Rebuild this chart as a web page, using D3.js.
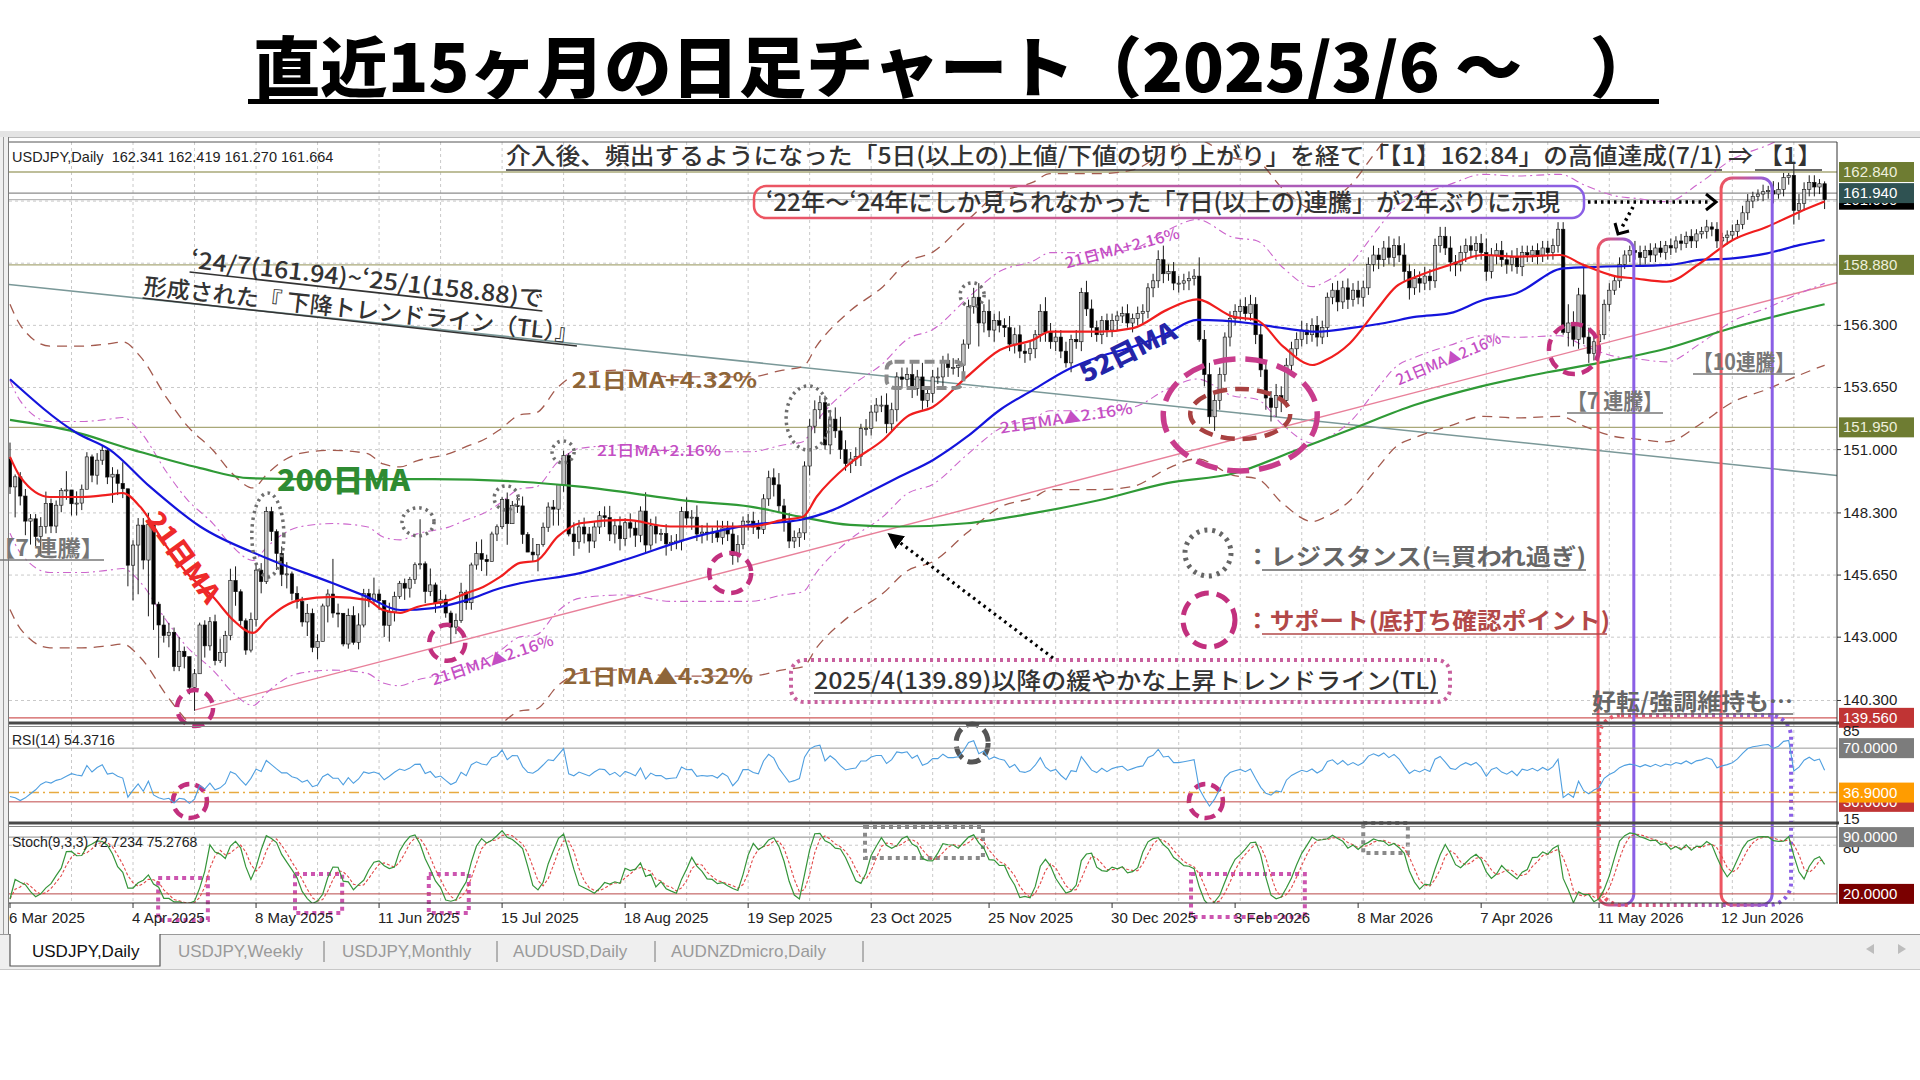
<!DOCTYPE html>
<html lang="ja">
<head>
<meta charset="utf-8">
<title>USDJPY Daily</title>
<script src="https://cdn.jsdelivr.net/npm/d3@7"></script>
<style>
  body { margin: 0; background: #fff; }
  svg { display: block; }
</style>
</head>
<body>
<div id="chartDiv"></div>
<script>
// ---------- values ----------
var firstOpen = 150.60
var closes = [
  149.41,149.84,149.02,147.95,148.05,147.29,147.72,148.71,147.74,148.63,
  149.26,149.28,148.69,148.72,149.31,150.69,149.91,150.55,150.96,149.83,
  149.95,149.56,149.33,146.07,146.93,147.78,146.29,147.80,144.41,143.52,
  143.07,143.21,141.75,142.40,142.17,140.86,141.44,143.52,142.63,143.66,
  142.00,142.34,143.07,145.42,144.94,143.70,142.45,143.75,145.86,145.37,
  148.36,147.50,146.57,145.68,145.70,144.87,144.52,143.65,144.02,142.56,
  142.82,144.33,144.84,144.03,144.02,142.71,143.92,142.78,143.52,144.86,
  144.58,144.84,144.56,143.51,144.07,144.74,145.30,145.09,145.47,146.09,
  146.13,144.95,145.23,144.44,144.62,144.03,143.43,143.71,144.92,144.47,
  146.08,146.57,146.32,146.22,147.40,147.71,148.87,147.84,148.61,148.60,
  147.38,146.63,146.51,146.96,147.69,148.55,148.46,149.50,150.75,147.40,
  147.07,147.70,147.40,147.10,147.70,148.18,148.10,147.40,147.75,147.20,
  147.88,147.65,147.35,148.38,146.93,147.75,147.40,147.42,146.98,147.05,
  147.10,148.36,148.08,148.12,147.40,147.48,147.42,147.48,147.25,147.66,
  147.40,146.49,146.95,147.95,147.95,147.70,147.60,148.90,149.80,149.50,
  148.60,147.90,147.10,147.25,147.45,150.30,152.00,152.70,153.00,151.20,
  152.30,151.80,151.00,150.40,150.60,150.70,151.90,151.90,152.60,152.90,
  152.90,152.10,152.70,154.10,154.00,154.20,153.60,154.10,153.10,153.40,
  154.10,154.10,154.80,154.50,154.50,154.60,155.50,157.10,157.50,156.40,
  156.90,156.10,156.50,156.30,156.20,155.50,155.90,155.20,155.10,155.30,
  155.90,156.90,156.00,155.60,155.80,155.20,154.70,155.70,155.60,157.70,
  157.00,156.20,155.90,156.50,156.10,156.50,156.70,156.80,156.40,156.60,
  156.80,156.90,157.90,158.20,159.10,158.50,158.60,158.10,158.10,158.20,
  158.30,158.40,155.70,154.20,152.40,153.10,154.20,155.80,156.60,156.90,
  157.10,156.80,157.20,155.90,154.40,153.20,152.80,153.30,153.10,154.60,
  155.30,155.70,156.10,155.90,156.30,155.80,156.20,157.50,157.80,157.30,
  157.90,157.40,157.80,157.50,157.90,158.90,159.30,159.10,159.60,159.20,
  159.70,159.30,158.60,157.90,158.30,158.10,158.40,158.20,159.70,160.10,
  159.60,159.00,158.90,159.40,159.70,159.50,159.80,159.40,158.60,159.30,
  159.50,159.10,158.90,159.20,158.80,159.40,159.30,159.50,159.30,159.60,
  159.40,159.70,160.40,156.00,156.40,155.70,157.60,155.80,155.10,155.60,
  155.90,157.20,157.80,158.20,158.90,159.30,159.50,159.40,159.20,159.50,
  159.30,159.60,159.40,159.70,159.60,159.90,159.80,160.10,159.90,160.20,
  160.30,160.50,160.40,159.90,160.05,160.15,160.30,160.60,161.10,161.60,
  161.80,161.90,162.00,162.05,161.90,162.10,162.60,162.70,161.20,161.50,
  162.10,162.40,162.20,162.34,161.66
]
// wick lengths above / below the body, in 0.1 yen
var wickUp = [
  7,1,2,3,2,2,4,5,2,2, 1,8,0,5,2,2,1,3,2,1, 3,2,9,0,2,3,3,5,1,1, 4,4,2,6,2,0,2,1,2,2,
  3,6,2,5,6,1,1,3,3,3, 2,2,1,3,5,1,3,2,4,2, 3,1,2,15,4,0,3,4,5,2, 2,7,2,0,4,2,1,2,1,1,
  19,1,7,1,4,2,1,3,4,1, 1,5,6,2,1,1,1,3,2,4, 4,1,6,0,2,2,3,0,2,1, 5,3,4,3,2,2,4,5,3,4,
  2,4,3,2,8,3,4,2,4,3, 3,2,6,3,5,3,4,2,5,3, 3,5,4,2,3,4,3,2,3,4, 5,3,4,3,2,2,3,4,3,3,
  3,5,6,4,3,4,2,4,3,3, 4,5,3,2,4,3,5,3,6,3, 3,4,2,3,4,3,2,3,4,6, 3,5,3,4,3,5,3,4,3,3,
  2,3,6,4,3,3,4,2,4,2, 5,4,3,2,3,3,2,3,4,2, 3,3,2,3,4,6,3,4,3,3, 3,3,8,4,5,4,3,2,3,3,
  3,4,4,3,4,4,3,5,4,3, 3,3,4,3,3,4,3,2,3,4, 3,4,3,4,3,3,4,3,3,5, 3,4,5,3,4,3,4,3,3,4,
  4,5,3,3,3,4,3,4,6,3, 3,4,3,3,4,3,3,2,3,3, 3,3,3,3,8,5,3,12,4,4, 2,2,3,2,3,2,2,4,3,2,
  3,2,3,2,3,2,3,2,3,2, 2,3,2,3,2,2,3,2,3,3, 2,2,3,2,4,3,2,1,5,4, 3,3,3,2,1
]
var wickDown = [
  3,13,4,6,10,4,8,3,3,3, 3,4,5,5,3,0,3,4,2,3, 11,5,4,9,15,21,4,24,11,14, 3,5,2,2,5,3,10,0,5,2,
  2,1,6,2,6,2,2,1,3,5, 1,4,7,5,6,3,3,2,6,2, 5,0,7,2,6,1,2,1,3,1, 3,2,4,5,7,4,1,5,4,2,
  2,5,2,4,2,2,7,3,1,3, 3,2,5,6,0,3,1,9,0,3, 4,0,3,7,1,2,7,7,3,1, 6,3,4,5,3,3,4,3,4,5,
  3,4,5,3,3,2,4,3,5,3, 3,4,3,5,3,4,3,4,2,3, 3,4,3,2,4,3,4,2,3,5, 3,4,3,3,4,3,4,3,4,2,
  4,3,4,3,4,3,4,3,3,4, 3,4,3,5,4,3,4,3,4,3, 4,3,5,4,3,4,3,2,3,10, 4,3,5,3,4,3,4,3,4,3,
  4,3,4,3,4,3,2,4,3,4, 3,4,3,4,3,3,4,3,2,4, 3,4,3,4,3,4,3,3,4,3, 4,3,1,5,3,6,4,3,4,3,
  4,3,3,4,3,5,6,4,5,3, 4,3,3,4,3,4,3,4,3,4, 3,4,3,3,4,3,3,4,3,3, 4,3,4,5,3,4,3,4,3,3,
  3,4,5,3,4,3,4,3,4,3, 4,3,4,3,3,4,3,3,4,3, 3,3,3,1,6,3,4,3,4,3, 3,2,3,2,3,2,3,3,4,3,
  3,3,2,3,3,2,3,2,3,3, 2,3,3,3,2,3,2,3,2,3, 3,2,3,3,4,2,3,3,6,4, 3,3,4,3,4
]
// RSI for the first bars (before 14 closes exist)
var rsiLead = [34,33,31,33,36,39,43,45,44,46,47,49,51,50]

// moving averages: [bar, price]
var ma21 = [[0,150.69],[2,149.84],[7.8,148.98],[14,148.98],[19,149.07],[22,149.15],[25.4,148.56],[30.6,146.85],
  [34.5,145.74],[39.6,144.72],[43.5,143.74],[47.4,143.18],[50.1,143.74],[53.3,144.29],[56.6,144.59],[63,144.72],
  [69.6,144.59],[72.8,144.16],[76.1,144.04],[79.4,144.29],[85.8,144.59],[89.2,144.89],[92.3,145.14],[95.6,145.57],
  [99.5,146.17],[102.6,146.25],[106.9,147.3],[111.2,147.86],[120,148.0],[128.8,147.72],[134.6,147.72],[144.4,147.72],
  [150.8,148.0],[154.7,148.14],[157.4,149.0],[163.9,150.42],[170.3,151.41],[175,152.41],[180.1,152.83],[186.7,154.11],
  [193.1,155.25],[199.6,155.68],[202.9,156.03],[212.6,156.03],[219.1,156.18],[225.7,156.96],[231.6,157.41],[238.6,156.67],
  [243.2,156.53],[248.4,155.39],[254.1,154.61],[256.5,154.8],[261.4,155.54],[266.6,156.96],[270.4,157.95],[274.4,158.38],
  [280.9,158.88],[287.4,159.30],[293.9,159.23],[302.4,159.30],[306.9,158.88],[313.5,158.38],[316.6,158.31],[323.2,158.16],
  [329.7,158.95],[336.1,159.94],[342.8,160.51],[349.2,161.15],[354,161.58]]
var ma52 = [[0,154.0],[13.1,151.70],[19.5,150.99],[27.3,149.42],[37.1,147.72],[50.1,146.37],[63,145.30],[69.6,144.73],
  [76.1,144.16],[82.5,144.24],[89.2,144.59],[95.6,145.09],[99.5,145.30],[111.2,145.73],[120,146.30],[133.8,147.29],
  [144.4,147.79],[154.1,148.0],[160.6,148.43],[167.2,149.14],[173.6,149.85],[180.1,150.56],[186.7,151.55],[193.1,152.69],
  [199.6,153.55],[206.2,154.40],[212.6,154.97],[219.1,155.39],[225.7,155.96],[231.6,156.53],[241.9,156.39],[248.4,156.18],
  [254.9,156.03],[261.4,156.18],[267.9,156.39],[274.4,156.67],[280.9,156.82],[287.4,157.38],[293.9,157.67],[303,158.73],
  [310.2,158.80],[323.8,158.88],[329.7,159.09],[336.1,159.16],[342.8,159.37],[349.2,159.73],[354,159.94]]
var ma200 = [[0,152.27],[11.1,151.84],[24,150.99],[37.1,150.21],[46.8,149.78],[63,149.74],[82.5,149.74],[99.5,149.63],
  [111.2,149.42],[133.8,148.78],[144.4,148.57],[154.1,148.14],[163.9,147.79],[173.6,147.72],[186.7,147.86],[199.6,148.29],
  [212.6,148.85],[225.7,149.57],[239,150.0],[250,150.9],[262,151.9],[274,152.9],[287,153.7],[300,154.3],
  [310,154.7],[323,155.3],[336,156.2],[354,157.2]]
var envelopePct = [2.16, 4.32]

var gridPrices = [161.6, 158.95, 156.3, 153.65, 151.0, 148.3, 145.65, 143.0, 140.3]
var priceTicks = [156.3, 153.65, 151.0, 148.3, 145.65, 143.0, 140.3]
var dateTicks = [[0,'6 Mar 2025'],[24,'4 Apr 2025'],[48,'8 May 2025'],[72,'11 Jun 2025'],[96,'15 Jul 2025'],
  [120,'18 Aug 2025'],[144,'19 Sep 2025'],[168,'23 Oct 2025'],[191,'25 Nov 2025'],[215,'30 Dec 2025'],
  [239,'3 Feb 2026'],[263,'8 Mar 2026'],[287,'7 Apr 2026'],[310,'11 May 2026'],[334,'12 Jun 2026']]
var oliveLevels = [162.84, 158.88, 151.95]
var highLevel = 161.94
var lowLevel = 139.56
var rsiLevels = [70, 36.9, 30]
var stochLevels = [90, 80, 20]
var downTL = [[-171,161.94],[-37,158.88]]
var upTL = [[36,139.89],[271,153.26]]
var streaks = [[310,316],[334,343]]
var tabs = ['USDJPY,Daily','USDJPY,Weekly','USDJPY,Monthly','AUDUSD,Daily','AUDNZDmicro,Daily']

// ---------- derived series ----------
var n = closes.length
var opens = closes.map(function(c,i){ return i === 0 ? firstOpen : closes[i-1] })
var highs = closes.map(function(c,i){ return Math.max(opens[i], c) + wickUp[i]/10 })
var lows = closes.map(function(c,i){ return Math.min(opens[i], c) - wickDown[i]/10 })

var rsi = rsiLead.slice()
var ag = 0, al = 0
for (var i = 1; i <= 14; i++) {
  var d = closes[i]-closes[i-1]
  ag += Math.max(d,0)/14; al += Math.max(-d,0)/14
}
rsi[14] = 100 - 100/(1+ag/al)
for (var i = 15; i < n; i++) {
  var d = closes[i]-closes[i-1]
  ag = (ag*13 + Math.max(d,0))/14
  al = (al*13 + Math.max(-d,0))/14
  rsi[i] = 100 - 100/(1+ag/al)
}

var num = [], den = [], stK = [], stD = []
for (var i = 0; i < n; i++) {
  var a = Math.max(0, i-8)
  var lo = d3.min(lows.slice(a, i+1)), hi = d3.max(highs.slice(a, i+1))
  num[i] = closes[i]-lo; den[i] = hi-lo
}
for (var i = 0; i < n; i++) {
  var a = Math.max(0, i-2)
  stK[i] = 100*d3.sum(num.slice(a,i+1))/d3.sum(den.slice(a,i+1))
}
for (var i = 0; i < n; i++) stD[i] = d3.mean(stK.slice(Math.max(0,i-2), i+1))

// ---------- layout ----------
var W = 1920, H = 1080
var plot = {left: 9, right: 1837, top: 142, bottom: 723}
var rsiBox = {top: 727, bottom: 823}
var stoBox = {top: 827, bottom: 903}
var jp = "'Noto Sans CJK JP', 'Noto Sans', sans-serif"
var mt = "'Liberation Sans', Arial, sans-serif"

var x = d3.scaleLinear().domain([0, 354]).range([10, 1824.6])
var y = d3.scaleLinear().domain([139.34, 164.12]).range([723, 142])
var yr = d3.scaleLinear().domain([15, 85]).range([822, 728])
var ys = d3.scaleLinear().domain([10, 100]).range([902, 829])

var svg = d3.select('#chartDiv').append('svg')
  .attr('width', W).attr('height', H)
  .style('background', '#fff')

var defs = svg.append('defs')
var grad = defs.append('linearGradient').attr('id','rp')
  .attr('x1','0').attr('x2','1').attr('y1','0').attr('y2','0')
grad.append('stop').attr('offset','0%').attr('stop-color','#ee5560')
grad.append('stop').attr('offset','100%').attr('stop-color','#8a5fe6')
defs.append('clipPath').attr('id','clipMain').append('rect')
  .attr('x', plot.left).attr('y', plot.top).attr('width', plot.right-plot.left).attr('height', plot.bottom-plot.top)
defs.append('clipPath').attr('id','clipRsi').append('rect')
  .attr('x', plot.left).attr('y', rsiBox.top).attr('width', plot.right-plot.left).attr('height', rsiBox.bottom-rsiBox.top)
defs.append('clipPath').attr('id','clipSto').append('rect')
  .attr('x', plot.left).attr('y', stoBox.top).attr('width', plot.right-plot.left).attr('height', stoBox.bottom-stoBox.top)
defs.append('marker').attr('id','arrowHead').attr('viewBox','0 0 10 10')
  .attr('refX', 8).attr('refY', 5).attr('markerWidth', 5).attr('markerHeight', 5)
  .attr('orient','auto').attr('markerUnits','strokeWidth')
  .append('path').attr('d','M0,0 L10,5 L0,10 z').attr('fill','#000')

// ---------- title ----------
svg.append('text')
  .attr('x', 253).attr('y', 92)
  .attr('font-family', jp).attr('font-weight', 900).attr('font-size', 66)
  .attr('textLength', 1404).attr('lengthAdjust','spacingAndGlyphs')
  .attr('fill', '#000')
  .text('直近15ヶ月の日足チャート（2025/3/6 ～　）')
svg.append('rect').attr('x', 248).attr('y', 99).attr('width', 1411).attr('height', 5).attr('fill', '#000')

// ---------- window frame ----------
svg.append('rect').attr('x', 0).attr('y', 131).attr('width', W).attr('height', 6).attr('fill', '#e4e4e4')
svg.append('line').attr('x1', 0).attr('x2', W).attr('y1', 137.5).attr('y2', 137.5).attr('stroke', '#b8b8b8')
svg.append('rect').attr('x', 0).attr('y', 137).attr('width', 8).attr('height', 797).attr('fill', '#efefef')
svg.append('line').attr('x1', 3.5).attr('x2', 3.5).attr('y1', 137).attr('y2', 934).attr('stroke', '#9a9a9a')
svg.append('line').attr('x1', 8.5).attr('x2', 8.5).attr('y1', 137).attr('y2', 934).attr('stroke', '#7a7a7a')

// ---------- grid ----------
var grid = svg.append('g')
d3.range(12, 355, 12).forEach(function(b){
  grid.append('line').attr('x1', x(b)).attr('x2', x(b)).attr('y1', plot.top).attr('y2', stoBox.bottom)
    .attr('stroke', '#c9c9c9').attr('stroke-dasharray', '3,3')
})
gridPrices.forEach(function(p){
  grid.append('line').attr('x1', plot.left).attr('x2', plot.right).attr('y1', y(p)).attr('y2', y(p))
    .attr('stroke', '#c9c9c9').attr('stroke-dasharray', '3,3')
})

// ---------- main window lines ----------
var main = svg.append('g').attr('clip-path', 'url(#clipMain)')
oliveLevels.forEach(function(p){
  main.append('line').attr('x1', plot.left).attr('x2', plot.right).attr('y1', y(p)).attr('y2', y(p))
    .attr('stroke', '#a9a878').attr('stroke-width', 1.3)
})
main.append('line').attr('x1', plot.left).attr('x2', plot.right).attr('y1', y(highLevel)).attr('y2', y(highLevel))
  .attr('stroke', '#8c8c8c').attr('stroke-width', 1.2)
main.append('line').attr('x1', plot.left).attr('x2', plot.right).attr('y1', y(closes[n-1])).attr('y2', y(closes[n-1]))
  .attr('stroke', '#a8a8a8')
main.append('line').attr('x1', plot.left).attr('x2', plot.right).attr('y1', y(lowLevel)).attr('y2', y(lowLevel))
  .attr('stroke', '#d05a5a').attr('stroke-width', 1.2)

function tlPoint(tl, b){
  var s = (tl[1][1]-tl[0][1])/(tl[1][0]-tl[0][0])
  return tl[0][1] + s*(b-tl[0][0])
}
main.append('line').attr('x1', x(0)-2).attr('x2', plot.right)
  .attr('y1', y(tlPoint(downTL, -0.4))).attr('y2', y(tlPoint(downTL, x.invert(plot.right))))
  .attr('stroke', '#7a9898').attr('stroke-width', 1.6)
main.append('line').attr('x1', x(upTL[0][0])).attr('x2', plot.right)
  .attr('y1', y(upTL[0][1])).attr('y2', y(tlPoint(upTL, x.invert(plot.right))))
  .attr('stroke', '#e8809a').attr('stroke-width', 1.4)

var line = d3.line().x(function(d){ return x(d[0]) }).y(function(d){ return y(d[1]) }).curve(d3.curveMonotoneX)
envelopePct.forEach(function(p){
  [1,-1].forEach(function(sg){
    var pts = ma21.map(function(d){ return [d[0], d[1]*(1+sg*p/100)] })
    main.append('path').attr('d', line(pts)).attr('fill','none')
      .attr('stroke', p < 3 ? '#cc66cc' : '#a35a4e')
      .attr('stroke-width', p < 3 ? 1.1 : 1.3)
      .attr('stroke-dasharray', p < 3 ? '8,4,2,4' : '10,7')
  })
})

// candles
var cg = main.append('g')
closes.forEach(function(c, i){
  var o = opens[i], up = c >= o
  cg.append('line').attr('x1', x(i)).attr('x2', x(i)).attr('y1', y(highs[i])).attr('y2', y(lows[i]))
    .attr('stroke', '#1a1a1a').attr('stroke-width', 1)
  var top = y(Math.max(o,c)), h = Math.max(1, Math.abs(y(o)-y(c)))
  cg.append('rect').attr('x', x(i)-1.7).attr('y', top).attr('width', 3.4).attr('height', h)
    .attr('fill', up ? '#c4c4c4' : '#000').attr('stroke', '#111').attr('stroke-width', 0.6)
})

main.append('path').attr('d', line(ma200)).attr('fill','none').attr('stroke','#2f9a36').attr('stroke-width', 2.2)
main.append('path').attr('d', line(ma52)).attr('fill','none').attr('stroke','#1414dc').attr('stroke-width', 2.2)
main.append('path').attr('d', line(ma21)).attr('fill','none').attr('stroke','#f01e1e').attr('stroke-width', 2.2)

// ---------- text helpers ----------
function note(par, o){
  var g = par.append('g').attr('transform', 'translate(' + o.x + ',' + o.y + ') rotate(' + (o.rot || 0) + ')')
  var t = g.append('text').attr('x', 0).attr('y', 0)
    .attr('font-family', o.font || jp).attr('font-size', o.size).attr('font-weight', o.weight || 500)
    .attr('fill', o.color).attr('text-anchor', o.anchor || 'start')
    .text(o.text)
  if (o.len) t.attr('textLength', o.len).attr('lengthAdjust', 'spacingAndGlyphs')
  if (o.mid) t.attr('dominant-baseline', 'central')
  if (o.ul) o.ul.forEach(function(s){
    g.append('line').attr('x1', s[0]).attr('x2', s[1]).attr('y1', o.ulY || 5).attr('y2', o.ulY || 5)
      .attr('stroke', o.ulColor || o.color).attr('stroke-width', 1.6)
  })
  return g
}

var ann = svg.append('g')

// top annotation
note(ann, {x: 506, y: 164, size: 23, color: '#333', len: 1316,
  text: '介入後、頻出するようになった「5日(以上の)上値/下値の切り上がり」を経て「【1】162.84」の高値達成(7/1) ⇒ 【1】',
  ul: [[0, 1216], [1249, 1316]], ulY: 6})

// rounded box with 7-day streak note
ann.append('rect').attr('x', 754).attr('y', 186).attr('width', 830).attr('height', 32).attr('rx', 12)
  .attr('fill', 'none').attr('stroke', 'url(#rp)').attr('stroke-width', 2.5)
note(ann, {x: 766, y: 211, size: 24, color: '#333', len: 794,
  text: '‘22年～‘24年にしか見られなかった「7日(以上の)連騰」が2年ぶりに示現'})

// dotted arrows from the box
ann.append('line').attr('x1', 1588).attr('x2', 1708).attr('y1', 202).attr('y2', 202)
  .attr('stroke', '#000').attr('stroke-width', 3.5).attr('stroke-dasharray', '2.5,4')
ann.append('polyline').attr('points', '1706,194 1716,202 1706,210').attr('fill','none')
  .attr('stroke', '#000').attr('stroke-width', 3)
ann.append('line').attr('x1', 1633).attr('x2', 1621).attr('y1', 207).attr('y2', 229)
  .attr('stroke', '#000').attr('stroke-width', 3.5).attr('stroke-dasharray', '2.5,4')
ann.append('polyline').attr('points', '1615,223 1618,234 1629,231').attr('fill','none')
  .attr('stroke', '#000').attr('stroke-width', 3)

// streak rectangles
streaks.forEach(function(s){
  var x0 = x(s[0]) - 1, x1 = x(s[1]) + 4
  var top = s[1]-s[0] > 7 ? 178 : 239
  ann.append('rect').attr('x', x0).attr('y', top).attr('width', x1-x0).attr('height', 905-top).attr('rx', 11)
    .attr('fill','none').attr('stroke','url(#rp)').attr('stroke-width', 3)
})
ann.append('rect').attr('x', x(streaks[0][0])).attr('y', 715).attr('width', 192).attr('height', 190).attr('rx', 22)
  .attr('fill','none').attr('stroke','url(#rp)').attr('stroke-width', 4).attr('stroke-dasharray','3,4')
note(ann, {x: 1567, y: 409, size: 22, weight: 700, color: '#777', len: 96, text: '【7 連騰】', ul: [[0, 96]], ulY: 4})
note(ann, {x: 1693, y: 370, size: 22, weight: 700, color: '#777', len: 102, text: '【10連騰】', ul: [[0, 102]], ulY: 4})
note(ann, {x: 104, y: 556, size: 22, weight: 700, color: '#777', len: 112, anchor: 'end', text: '【7 連騰】', ul: [[-112, 0]], ulY: 4})
note(ann, {x: 1592, y: 710, size: 23, weight: 700, color: '#666', len: 201, text: '好転/強調維持も…', ul: [[0, 201]], ulY: 4})

// descending trend line caption
note(ann, {x: 190, y: 268, rot: 6.3, size: 23, color: '#333', len: 355,
  text: '‘24/7(161.94)~‘25/1(158.88)で', ul: [[0, 355]], ulY: 4})
note(ann, {x: 143, y: 294, rot: 6.3, size: 23, color: '#333', len: 437,
  text: '形成された『 下降トレンドライン（TL）』', ul: [[0, 437]], ulY: 4})

// MA names
note(ann, {x: 277, y: 491, size: 30, weight: 900, color: '#2e8b32', len: 133, text: '200日MA'})
note(ann, {x: 185, y: 556, rot: 54, size: 26, weight: 900, color: '#ee2a2a', len: 106, anchor: 'middle', mid: true, text: '21日MA'})
note(ann, {x: 1127, y: 350, rot: -26, size: 26, weight: 900, color: '#2424a8', len: 104, anchor: 'middle', mid: true, text: '52日MA'})
note(ann, {x: 572, y: 388, size: 21, weight: 700, color: '#8e6538', len: 185, text: '21日MA+4.32%'})
note(ann, {x: 563, y: 684, size: 21, weight: 700, color: '#8e6538', len: 190, text: '21日MA▲4.32%'})
var mg = '#c44ec4'
note(ann, {x: 597, y: 456, size: 15, color: mg, len: 124, text: '21日MA+2.16%'})
note(ann, {x: 1122, y: 247, rot: -15, size: 15, color: mg, len: 118, anchor: 'middle', mid: true, text: '21日MA+2.16%'})
note(ann, {x: 492, y: 659, rot: -18.6, size: 15, color: mg, len: 128, anchor: 'middle', mid: true, text: '21日MA▲2.16%'})
note(ann, {x: 1066, y: 417, rot: -8.6, size: 15, color: mg, len: 134, anchor: 'middle', mid: true, text: '21日MA▲2.16%'})
note(ann, {x: 1448, y: 358, rot: -22.7, size: 15, color: mg, len: 112, anchor: 'middle', mid: true, text: '21日MA▲2.16%'})

// rising trend line caption
ann.append('rect').attr('x', 791).attr('y', 660).attr('width', 659).attr('height', 42).attr('rx', 13)
  .attr('fill','#fff').attr('fill-opacity', 0).attr('stroke', '#c8609e').attr('stroke-width', 4).attr('stroke-dasharray', '3,4')
note(ann, {x: 814, y: 689, size: 23, color: '#333', len: 624,
  text: '2025/4(139.89)以降の緩やかな上昇トレンドライン(TL)', ul: [[0, 624]], ulY: 4})
ann.append('line').attr('x1', 1053).attr('y1', 658).attr('x2', 890).attr('y2', 535)
  .attr('stroke', '#000').attr('stroke-width', 3.2).attr('stroke-dasharray', '2.5,4')
  .attr('marker-end', 'url(#arrowHead)')

// legend
ann.append('ellipse').attr('cx', 1208).attr('cy', 553).attr('rx', 23).attr('ry', 23)
  .attr('fill','none').attr('stroke','#666').attr('stroke-width', 5).attr('stroke-dasharray','3,5')
ann.append('ellipse').attr('cx', 1209).attr('cy', 620).attr('rx', 26).attr('ry', 27)
  .attr('fill','none').attr('stroke','#c2307e').attr('stroke-width', 5).attr('stroke-dasharray','14,8')
note(ann, {x: 1245, y: 565, size: 23, weight: 700, color: '#666', len: 341,
  text: '：レジスタンス(≒買われ過ぎ)', ul: [[17, 341]], ulY: 5})
note(ann, {x: 1245, y: 629, size: 23, weight: 700, color: '#b24848', len: 365,
  text: '：サポート(底打ち確認ポイント)', ul: [[17, 362]], ulY: 5})

// support (magenta dashed) and resistance (gray dotted) marks on the price window
var supports = [[36.1,139.98,18,18],[85.3,142.76,18,18],[140.5,145.74,21,20],[305.1,155.29,25,25]]
supports.forEach(function(s){
  ann.append('ellipse').attr('cx', x(s[0])).attr('cy', y(s[1])).attr('rx', s[2]).attr('ry', s[3])
    .attr('fill','none').attr('stroke','#c2307e').attr('stroke-width', 4.5).attr('stroke-dasharray','12,7')
})
ann.append('ellipse').attr('cx', x(240)).attr('cy', y(152.48)).attr('rx', 77).attr('ry', 56)
  .attr('fill','none').attr('stroke','#c83c8c').attr('stroke-width', 5.5).attr('stroke-dasharray','22,10')
ann.append('ellipse').attr('cx', x(240)).attr('cy', y(152.52)).attr('rx', 50).attr('ry', 25)
  .attr('fill','none').attr('stroke','#a84040').attr('stroke-width', 4.5).attr('stroke-dasharray','14,8')
var resist = [[50.3,147.36,16,42],[79.6,147.92,16,14],[96.8,148.94,12,12],[107.9,150.9,11,11],[155.7,152.35,22,32],[187.7,157.6,12,12]]
resist.forEach(function(s){
  ann.append('ellipse').attr('cx', x(s[0])).attr('cy', y(s[1])).attr('rx', s[2]).attr('ry', s[3])
    .attr('fill','none').attr('stroke','#6e6e6e').attr('stroke-width', 3.5).attr('stroke-dasharray','2.5,4')
})
ann.append('rect').attr('x', x(171)).attr('y', y(154.75)).attr('width', x(186)-x(171)).attr('height', y(153.63)-y(154.75))
  .attr('rx', 8).attr('fill','none').attr('stroke','#8a8a8a').attr('stroke-width', 4).attr('stroke-dasharray','10,5')

// ---------- RSI window ----------
var rsiG = svg.append('g')
rsiG.append('g').attr('clip-path','url(#clipRsi)').call(function(g){
  g.append('line').attr('x1', plot.left).attr('x2', plot.right).attr('y1', yr(70)).attr('y2', yr(70)).attr('stroke', '#9a9a9a')
  g.append('line').attr('x1', plot.left).attr('x2', plot.right).attr('y1', yr(30)).attr('y2', yr(30)).attr('stroke', '#c04848')
  g.append('line').attr('x1', plot.left).attr('x2', plot.right).attr('y1', yr(36.9)).attr('y2', yr(36.9))
    .attr('stroke', '#e8aa40').attr('stroke-width', 1.5).attr('stroke-dasharray', '10,4,2,4')
  g.append('path').attr('d', d3.line().x(function(d,i){ return x(i) }).y(function(d){ return yr(d) })(rsi))
    .attr('fill','none').attr('stroke','#4f9fe0').attr('stroke-width', 1.1)
})
rsiG.append('text').attr('x', 12).attr('y', 745).attr('font-family', mt).attr('font-size', 14).attr('fill','#222')
  .text('RSI(14) 54.3716')
ann.append('ellipse').attr('cx', x(35.1)).attr('cy', yr(30.6)).attr('rx', 17).attr('ry', 17)
  .attr('fill','none').attr('stroke','#c2307e').attr('stroke-width', 4.5).attr('stroke-dasharray','11,6')
ann.append('ellipse').attr('cx', x(233.3)).attr('cy', yr(30.6)).attr('rx', 17).attr('ry', 17)
  .attr('fill','none').attr('stroke','#c2307e').attr('stroke-width', 4.5).attr('stroke-dasharray','11,6')
ann.append('ellipse').attr('cx', x(187.7)).attr('cy', yr(73.8)).attr('rx', 16).attr('ry', 19)
  .attr('fill','none').attr('stroke','#555').attr('stroke-width', 5).attr('stroke-dasharray','13,6')

// ---------- Stochastic window ----------
var stoG = svg.append('g')
stoG.append('g').attr('clip-path','url(#clipSto)').call(function(g){
  g.append('line').attr('x1', plot.left).attr('x2', plot.right).attr('y1', ys(90)).attr('y2', ys(90)).attr('stroke', '#8a8a8a')
  g.append('line').attr('x1', plot.left).attr('x2', plot.right).attr('y1', ys(80)).attr('y2', ys(80))
    .attr('stroke', '#c8c8c8').attr('stroke-dasharray', '3,3')
  g.append('line').attr('x1', plot.left).attr('x2', plot.right).attr('y1', ys(20)).attr('y2', ys(20)).attr('stroke', '#b84848')
  g.append('path').attr('d', d3.line().x(function(d,i){ return x(i) }).y(function(d){ return ys(d) })(stD))
    .attr('fill','none').attr('stroke','#e24a4a').attr('stroke-width', 1.1).attr('stroke-dasharray','3,2')
  g.append('path').attr('d', d3.line().x(function(d,i){ return x(i) }).y(function(d){ return ys(d) })(stK))
    .attr('fill','none').attr('stroke','#35953a').attr('stroke-width', 1.2)
})
stoG.append('text').attr('x', 12).attr('y', 847).attr('font-family', mt).attr('font-size', 14).attr('fill','#222')
  .text('Stoch(9,3,3) 72.7234 75.2768')
var pinkBoxes = [[28.9,38.6,878,920],[55.6,64.8,874,913],[81.7,89.5,874,913],[230.4,252.6,874,917]]
pinkBoxes.forEach(function(b){
  ann.append('rect').attr('x', x(b[0])).attr('y', b[2]).attr('width', x(b[1])-x(b[0])).attr('height', b[3]-b[2])
    .attr('fill','none').attr('stroke','#cc55b0').attr('stroke-width', 4).attr('stroke-dasharray','4,4')
})
var grayBoxes = [[166.8,189.8,827,858],[264,272.7,823,853]]
grayBoxes.forEach(function(b){
  ann.append('rect').attr('x', x(b[0])).attr('y', b[2]).attr('width', x(b[1])-x(b[0])).attr('height', b[3]-b[2])
    .attr('fill','none').attr('stroke','#8a8a8a').attr('stroke-width', 4).attr('stroke-dasharray','4,4')
})

// ---------- window separators and axes ----------
var frame = svg.append('g')
frame.append('line').attr('x1', plot.left).attr('x2', plot.right).attr('y1', plot.top).attr('y2', plot.top).attr('stroke', '#555')
frame.append('rect').attr('x', plot.left).attr('y', 721.5).attr('width', plot.right-plot.left+2).attr('height', 3).attr('fill', '#4a4a4a')
frame.append('line').attr('x1', plot.left).attr('x2', plot.right).attr('y1', 726.5).attr('y2', 726.5).attr('stroke', '#888')
frame.append('rect').attr('x', plot.left).attr('y', 821.5).attr('width', plot.right-plot.left+2).attr('height', 3).attr('fill', '#4a4a4a')
frame.append('line').attr('x1', plot.left).attr('x2', plot.right).attr('y1', 826.5).attr('y2', 826.5).attr('stroke', '#888')
frame.append('line').attr('x1', plot.left).attr('x2', plot.right+1).attr('y1', stoBox.bottom).attr('y2', stoBox.bottom).attr('stroke', '#333')
frame.append('line').attr('x1', plot.right).attr('x2', plot.right).attr('y1', plot.top).attr('y2', stoBox.bottom).attr('stroke', '#333')

dateTicks.forEach(function(t){
  frame.append('line').attr('x1', x(t[0])).attr('x2', x(t[0])).attr('y1', stoBox.bottom).attr('y2', stoBox.bottom+5).attr('stroke','#333')
  frame.append('text').attr('x', x(t[0])-1).attr('y', 923).attr('font-family', mt).attr('font-size', 15)
    .attr('fill', '#222').text(t[1])
})

// price axis
var axis = svg.append('g').attr('font-family', mt).attr('font-size', 15)
priceTicks.forEach(function(p){
  axis.append('line').attr('x1', plot.right).attr('x2', plot.right+4).attr('y1', y(p)).attr('y2', y(p)).attr('stroke','#333')
  axis.append('text').attr('x', 1843).attr('y', y(p)+5).attr('fill', '#222').text(p.toFixed(3))
})
function tag(v, yy, bg, fg, digits){
  axis.append('rect').attr('x', 1839).attr('y', yy-10).attr('width', 75).attr('height', 20).attr('fill', bg)
  axis.append('text').attr('x', 1843).attr('y', yy+5).attr('fill', fg).text(v.toFixed(digits))
}
tag(oliveLevels[0], y(oliveLevels[0]), '#6e7c32', '#eef0dc', 3)
tag(closes[n-1], y(closes[n-1]), '#000', '#fff', 3)
tag(highLevel, y(highLevel), '#2f5252', '#fff', 3)
tag(oliveLevels[1], y(oliveLevels[1]), '#6e7c32', '#eef0dc', 3)
tag(oliveLevels[2], y(oliveLevels[2]), '#6e7c32', '#eef0dc', 3)
tag(lowLevel, y(lowLevel), '#c03434', '#fff', 3)

axis.append('text').attr('x', 1843).attr('y', yr(85)+8).attr('fill','#222').text('85')
axis.append('text').attr('x', 1843).attr('y', yr(15)+2).attr('fill','#222').text('15')
tag(rsiLevels[2], yr(rsiLevels[2]), '#c03434', '#fff', 4)
tag(rsiLevels[1], yr(rsiLevels[1]), '#ff9c00', '#fff', 4)
tag(rsiLevels[0], yr(rsiLevels[0]), '#7c7c7c', '#fff', 4)
axis.append('text').attr('x', 1843).attr('y', ys(80)+8).attr('fill','#222').text('80')
tag(stochLevels[0], ys(stochLevels[0]), '#7c7c7c', '#fff', 4)
tag(stochLevels[2], ys(stochLevels[2]), '#7a0000', '#fff', 4)

// ---------- tabs ----------
var tb = svg.append('g').attr('font-family', mt).attr('font-size', 17)
tb.append('rect').attr('x', 0).attr('y', 934).attr('width', W).attr('height', 36).attr('fill', '#efefef')
tb.append('line').attr('x1', 0).attr('x2', W).attr('y1', 934.5).attr('y2', 934.5).attr('stroke', '#9a9a9a')
tb.append('line').attr('x1', 0).attr('x2', W).attr('y1', 969.5).attr('y2', 969.5).attr('stroke', '#c8c8c8')
tb.append('path').attr('d', 'M10,934 L10,966 L160,966 L160,934').attr('fill', '#fff').attr('stroke', '#555').attr('stroke-width', 1.2)
var tabX = [32, 178, 342, 513, 671], sepX = [324, 497, 655, 863]
tabs.forEach(function(t, i){
  tb.append('text').attr('x', tabX[i]).attr('y', 957).attr('fill', i === 0 ? '#111' : '#9a9a9a').text(t)
})
sepX.forEach(function(s){
  tb.append('line').attr('x1', s).attr('x2', s).attr('y1', 941).attr('y2', 962).attr('stroke', '#777')
})
tb.append('path').attr('d', 'M1866,949 L1874,944 L1874,954 z').attr('fill', '#bdbdbd')
tb.append('path').attr('d', 'M1906,949 L1898,944 L1898,954 z').attr('fill', '#bdbdbd')

// header
svg.append('text').attr('x', 12).attr('y', 162).attr('font-family', mt).attr('font-size', 14.5).attr('fill', '#222')
  .attr('xml:space', 'preserve').text('USDJPY,Daily  162.341 162.419 161.270 161.664')
</script>
</body>
</html>
